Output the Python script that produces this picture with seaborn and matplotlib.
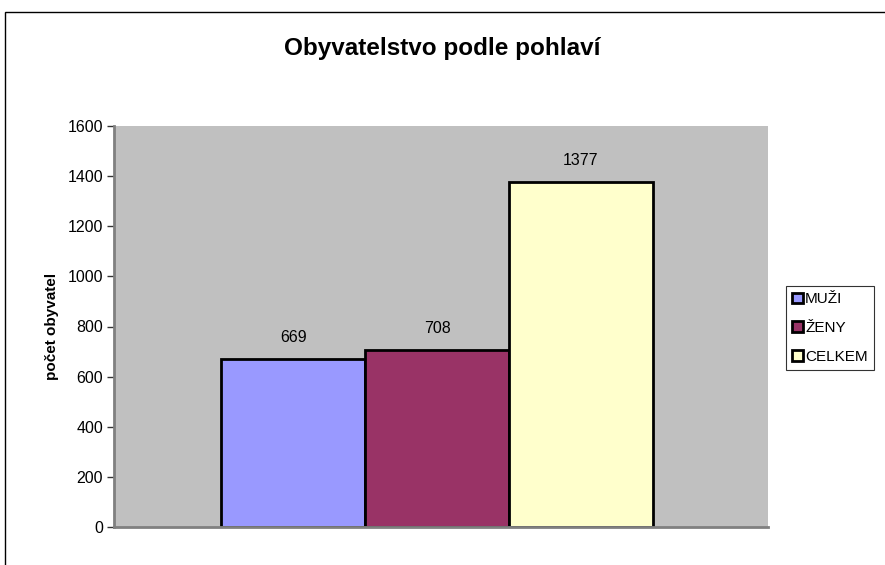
import pandas as pd
import matplotlib.pyplot as plt
import seaborn as sns
from matplotlib.patches import Rectangle

### data
series = ["MUŽI", "ŽENY", "CELKEM"]
values = [669, 708, 1377]
colors = ["#9999FF", "#993366", "#FFFFCC"]
yticks = [0, 200, 400, 600, 800, 1000, 1200, 1400, 1600]

df = pd.DataFrame({"skupina": [""] * len(series), "serie": series, "pocet": values})

sns.set_style("white")
plt.rcParams["font.family"] = ["Liberation Sans", "DejaVu Sans"]
plt.rcParams["text.color"] = "black"
plt.rcParams["ytick.color"] = "black"
plt.rcParams["axes.labelcolor"] = "black"

fig = plt.figure(figsize=(8.85, 5.65), dpi=100)
ax = fig.add_axes([114 / 885, 1 - 527 / 565, (768 - 114) / 885, (527 - 126) / 565])

sns.barplot(data=df, x="skupina", y="pocet", hue="serie", palette=colors, saturation=1,
            width=0.66, edgecolor="black", linewidth=2, ax=ax)

ax.set_facecolor("#C0C0C0")
ax.set_xlim(-0.494, 0.506)
ax.set_ylim(0, 1600)
ax.set_yticks(yticks)
ax.set_xticks([])
ax.set_xlabel("")
ax.set_ylabel("počet obyvatel", fontsize=11, fontweight="bold", labelpad=6)
ax.tick_params(axis="y", left=True, length=5, width=1, color="#333333", labelsize=11.5, pad=3)
for side in ["top", "right"]:
    ax.spines[side].set_visible(False)
for side in ["left", "bottom"]:
    ax.spines[side].set_color("#808080")
    ax.spines[side].set_linewidth(2)

for cont in ax.containers:
    ax.bar_label(cont, padding=10, fontsize=11.5)

### legend on the right
handles, labels = ax.get_legend_handles_labels()
ax.get_legend().remove()
leg = fig.legend(handles, labels, loc="center left", bbox_to_anchor=(786 / 885, 1 - 328 / 565),
                 fontsize=11, frameon=True, fancybox=False, edgecolor="black",
                 handlelength=0.7, handleheight=0.7, handletextpad=0.15, labelspacing=0.95,
                 borderpad=0.4, borderaxespad=0)
leg.get_frame().set_linewidth(0.8)
for h in leg.legend_handles:
    h.set_edgecolor("black")
    h.set_linewidth(2)

fig.suptitle("Obyvatelstvo podle pohlaví", y=1 - 48 / 565, va="center",
             fontsize=17.5, fontweight="bold")

### outer chart border
fig.patches.append(Rectangle((5 / 885, -0.1), 1.1, (565 - 12) / 565 + 0.1, fill=False,
                             edgecolor="black", linewidth=1, transform=fig.transFigure))

fig.savefig("out.png", dpi=100)
